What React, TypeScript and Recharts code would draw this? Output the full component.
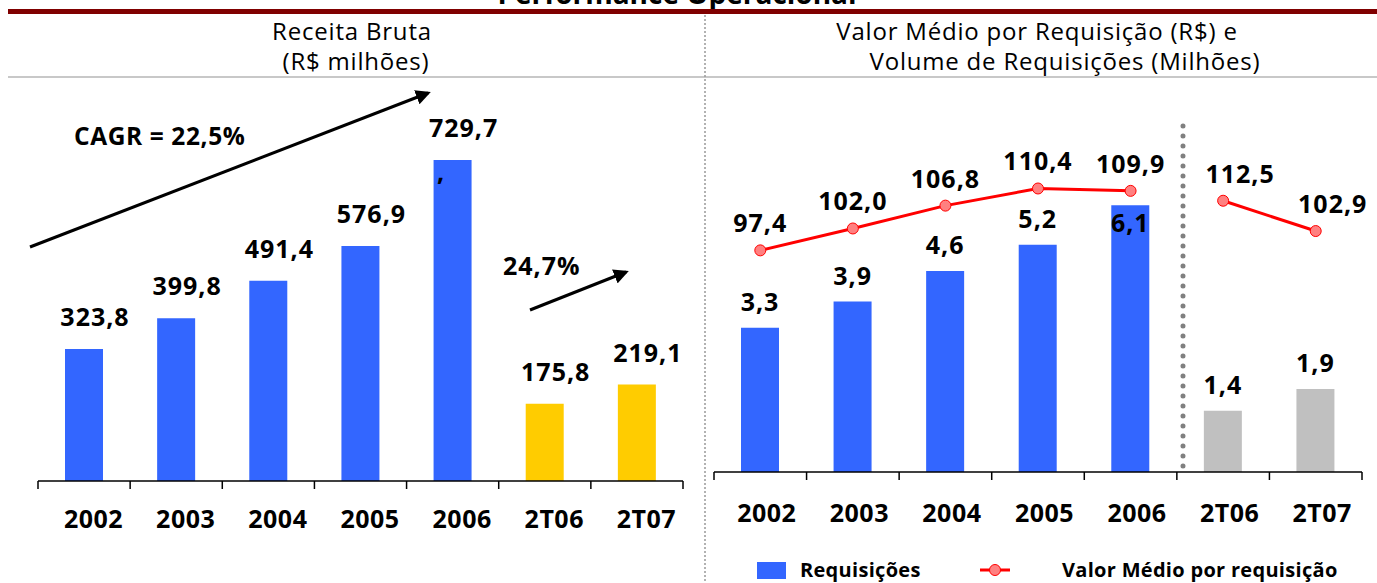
import {
  BarChart,
  Bar,
  ComposedChart,
  Line,
  XAxis,
  YAxis,
  Cell,
  LabelList,
  Legend,
} from "recharts";

const FONT = "'Open Sans', 'DejaVu Sans', sans-serif";
const AZUL = "#3366ff";
const AMARELO = "#ffcc00";
const CINZA = "#c0c0c0";
const VERMELHO = "#ff0000";

const categorias = ["2002", "2003", "2004", "2005", "2006", "2T06", "2T07"];
const receitaBruta = [323.8, 399.8, 491.4, 576.9, 729.7, 175.8, 219.1];
// the original slide draws 2006 and the quarters on a slightly larger scale
const escalaReceita = ["a", "a", "a", "a", "b", "b", "b"];
const requisicoes = [3.3, 3.9, 4.6, 5.2, 6.1, 1.4, 1.9];
const valorMedio = [97.4, 102.0, 106.8, 110.4, 109.9, 112.5, 102.9];

const isTrimestre = (c: string) => c.startsWith("2T");
const fmt = (v: number) => v.toFixed(1).replace(".", ",");

const receitaData = categorias.map((c, i) => ({
  categoria: c,
  receitaA: escalaReceita[i] === "a" ? receitaBruta[i] : null,
  receitaB: escalaReceita[i] === "b" ? receitaBruta[i] : null,
}));

const operacaoData = categorias.map((c, i) => ({
  categoria: c,
  requisicoes: requisicoes[i],
  valorAnual: isTrimestre(c) ? null : valorMedio[i],
  valorTri: isTrimestre(c) ? valorMedio[i] : null,
}));

const valueStyle = {
  fontFamily: FONT,
  fontWeight: 700,
  fontSize: 25,
  letterSpacing: 1,
  fill: "#000",
};

function CategoryTick(props: any) {
  const { x, payload, index, band, axisY, dx, labelY } = props;
  const last = index === categorias.length - 1;
  return (
    <g>
      <line x1={x - band / 2} y1={axisY} x2={x - band / 2} y2={axisY + 8} stroke="#000" strokeWidth={1.5} />
      {last && (
        <line x1={x + band / 2} y1={axisY} x2={x + band / 2} y2={axisY + 8} stroke="#000" strokeWidth={1.5} />
      )}
      <text x={x + dx} y={labelY} textAnchor="middle" style={{ ...valueStyle, letterSpacing: 0.5 }}>
        {payload.value}
      </text>
    </g>
  );
}

const ReceitaLabel = (props: any) => {
  const { x, y, width, value } = props;
  if (value == null) return null;
  return (
    <text x={x + width / 2 + 11} y={y - 23} textAnchor="middle" style={valueStyle}>
      {fmt(value)}
    </text>
  );
};

const RequisicaoLabel = (props: any) => {
  const { x, y, width, height, value } = props;
  if (value == null) return null;
  // tall bar: label goes inside, the line label sits above it
  const ty = height > 250 ? y + 27 : y - 17;
  return (
    <text x={x + width / 2} y={ty} textAnchor="middle" style={valueStyle}>
      {fmt(value)}
    </text>
  );
};

const makeValorLabel = (dx: number) => (props: any) => {
  const { x, y, value } = props;
  if (value == null) return null;
  return (
    <text x={x + dx} y={y - 18} textAnchor="middle" style={valueStyle}>
      {fmt(value)}
    </text>
  );
};

const renderLegend = (props: any) => {
  const items = (props.payload ?? []).filter((e: any) => e.type !== "none");
  const iconX = [57, 280];
  const textX = [100, 362];
  return (
    <svg width={677} height={30}>
      {items.map((entry: any, i: number) => (
        <g key={entry.value}>
          {entry.type === "line" ? (
            <g>
              <line x1={iconX[i]} y1={15} x2={iconX[i] + 30} y2={15} stroke={VERMELHO} strokeWidth={3} />
              <circle cx={iconX[i] + 15} cy={15} r={5.5} fill="#ff8080" stroke={VERMELHO} />
            </g>
          ) : (
            <rect x={iconX[i]} y={7} width={29} height={17} fill={entry.color} />
          )}
          <text x={textX[i]} y={22} style={{ ...valueStyle, fontSize: 20, letterSpacing: 0.3 }}>
            {entry.value}
          </text>
        </g>
      ))}
    </svg>
  );
};

export default function App() {
  const tituloStyle = { fontFamily: FONT, fontSize: 24, letterSpacing: 0.8, fill: "#000" };
  return (
    <div style={{ position: "absolute", left: 0, top: 0, width: 1377, height: 583, background: "#fff" }}>
      <div style={{ position: "absolute", left: 0, top: 0 }}>
        <BarChart
          width={700}
          height={583}
          data={receitaData}
          margin={{ top: 100, right: 17, bottom: 42, left: 38 }}
          barSize={38}
        >
          <XAxis
            dataKey="categoria"
            height={60}
            interval={0}
            axisLine={{ stroke: "#000", strokeWidth: 1.5 }}
            tickLine={false}
            tick={(p: any) => <CategoryTick {...p} band={645 / 7} axisY={481} dx={9.5} labelY={528} />}
          />
          <YAxis yAxisId="a" hide domain={[0, 935.4]} allowDataOverflow />
          <YAxis yAxisId="b" hide domain={[0, 865.9]} allowDataOverflow />
          <Bar dataKey="receitaA" yAxisId="a" stackId="r" isAnimationActive={false}>
            {receitaData.map((d) => (
              <Cell key={`a-${d.categoria}`} fill={isTrimestre(d.categoria) ? AMARELO : AZUL} />
            ))}
            <LabelList dataKey="receitaA" content={ReceitaLabel} />
          </Bar>
          <Bar dataKey="receitaB" yAxisId="b" stackId="r" isAnimationActive={false}>
            {receitaData.map((d) => (
              <Cell key={`b-${d.categoria}`} fill={isTrimestre(d.categoria) ? AMARELO : AZUL} />
            ))}
            <LabelList dataKey="receitaB" content={ReceitaLabel} />
          </Bar>
        </BarChart>
      </div>

      <div style={{ position: "absolute", left: 700, top: 0 }}>
        <ComposedChart
          width={677}
          height={583}
          data={operacaoData}
          margin={{ top: 100, right: 15, bottom: 51, left: 14 }}
          barSize={38}
        >
          <XAxis
            dataKey="categoria"
            height={60}
            interval={0}
            axisLine={{ stroke: "#000", strokeWidth: 1.5 }}
            tickLine={false}
            tick={(p: any) => <CategoryTick {...p} band={648 / 7} axisY={472} dx={6.5} labelY={521.5} />}
          />
          <YAxis yAxisId="req" hide domain={[0, 8.51]} allowDataOverflow />
          <YAxis yAxisId="vA" hide domain={[50.84, 128.99]} allowDataOverflow />
          <YAxis yAxisId="vB" hide domain={[26.55, 144.42]} allowDataOverflow />
          <Bar dataKey="requisicoes" name="Requisições" yAxisId="req" fill={AZUL} isAnimationActive={false}>
            {operacaoData.map((d) => (
              <Cell key={`r-${d.categoria}`} fill={isTrimestre(d.categoria) ? CINZA : AZUL} />
            ))}
            <LabelList dataKey="requisicoes" content={RequisicaoLabel} />
          </Bar>
          <Line
            dataKey="valorAnual"
            name="Valor Médio por requisição"
            yAxisId="vA"
            stroke={VERMELHO}
            strokeWidth={3}
            dot={{ r: 5.5, fill: "#ff8080", stroke: VERMELHO, strokeWidth: 1 }}
            activeDot={false}
            isAnimationActive={false}
          >
            <LabelList dataKey="valorAnual" content={makeValorLabel(0)} />
          </Line>
          <Line
            dataKey="valorTri"
            name="Valor Médio trimestral"
            yAxisId="vB"
            legendType="none"
            stroke={VERMELHO}
            strokeWidth={3}
            dot={{ r: 5.5, fill: "#ff8080", stroke: VERMELHO, strokeWidth: 1 }}
            activeDot={false}
            isAnimationActive={false}
          >
            <LabelList dataKey="valorTri" content={makeValorLabel(17)} />
          </Line>
          <Legend
            layout="horizontal"
            verticalAlign="middle"
            align="center"
            wrapperStyle={{ left: 0, top: 555, width: 677, height: 30 }}
            content={renderLegend}
          />
        </ComposedChart>
      </div>

      <svg
        width={1377}
        height={583}
        style={{ position: "absolute", left: 0, top: 0, pointerEvents: "none" }}
      >
        <defs>
          <marker id="ponta" viewBox="0 0 10 10" refX="8" refY="5" markerWidth="5" markerHeight="5" orient="auto">
            <path d="M0,0 L10,5 L0,10 z" fill="#000" />
          </marker>
        </defs>
        <text x={677} y={4} textAnchor="middle" style={{ ...valueStyle, fontSize: 28, letterSpacing: 0 }}>
          Performance Operacional
        </text>
        <rect x={8} y={9} width={1369} height={5} fill="#800000" />
        <line x1={8} y1={77} x2={1377} y2={77} stroke="#c8c8c8" strokeWidth={2} />
        <line x1={705} y1={15} x2={705} y2={583} stroke="#999" strokeWidth={1.5} strokeDasharray="2 2" />

        <text x={352} y={40} textAnchor="middle" style={tituloStyle}>Receita Bruta</text>
        <text x={356} y={70} textAnchor="middle" style={tituloStyle}>(R$ milhões)</text>
        <text x={1037} y={40} textAnchor="middle" style={tituloStyle}>Valor Médio por Requisição (R$) e</text>
        <text x={1065} y={70} textAnchor="middle" style={tituloStyle}>Volume de Requisições (Milhões)</text>

        <text x={74} y={145} style={{ ...valueStyle, fontSize: 24.5, letterSpacing: 0.6 }}>CAGR = 22,5%</text>
        <line x1={30} y1={247} x2={428} y2={93} stroke="#000" strokeWidth={3} markerEnd="url(#ponta)" />
        <text x={503} y={275} style={valueStyle}>24,7%</text>
        <line x1={530} y1={310} x2={626} y2={272} stroke="#000" strokeWidth={3} markerEnd="url(#ponta)" />
        <text x={437} y={181} style={valueStyle}>,</text>

        <line
          x1={1183}
          y1={126}
          x2={1183}
          y2={472}
          stroke="#808080"
          strokeWidth={5}
          strokeLinecap="round"
          strokeDasharray="0 10"
        />
      </svg>
    </div>
  );
}
